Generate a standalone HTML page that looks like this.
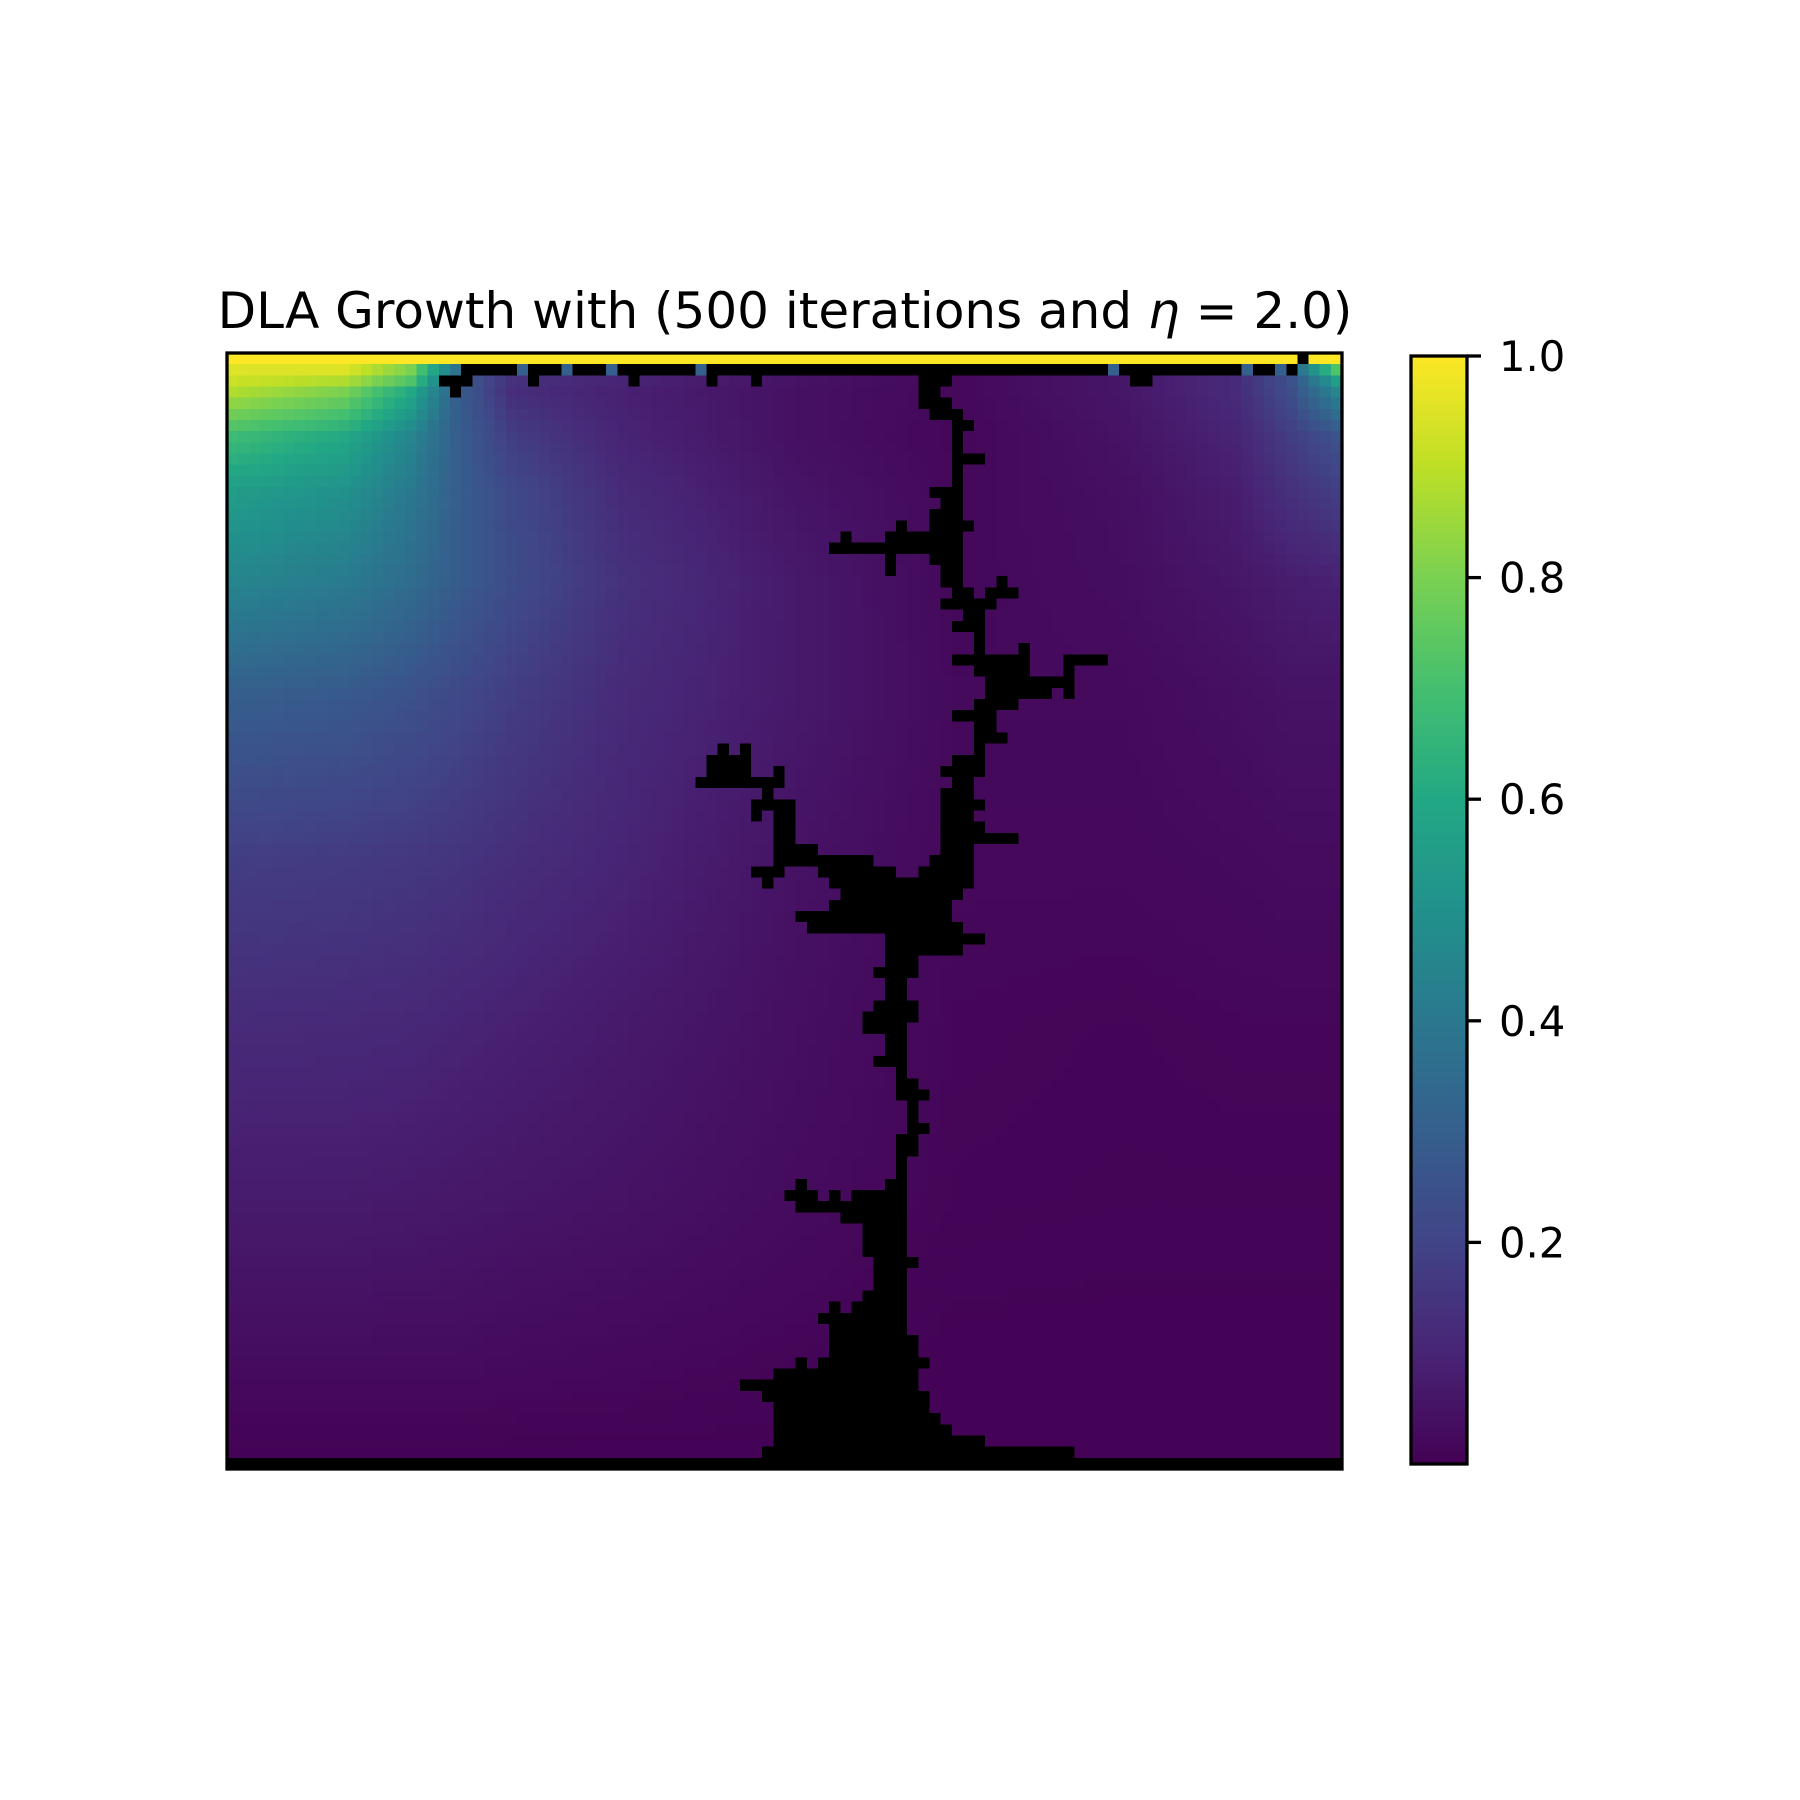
<!DOCTYPE html>
<html>
<head>
<meta charset="utf-8">
<style>
  html, body { margin: 0; padding: 0; background: #ffffff; }
  svg { display: block; }
  text { font-family: "DejaVu Sans", "Liberation Sans", sans-serif; fill: #000; }
</style>
</head>
<body>
<svg id="chart" width="1800" height="1800" viewBox="0 0 1800 1800" xmlns="http://www.w3.org/2000/svg">
  <rect x="0" y="0" width="1800" height="1800" fill="#ffffff"/>
  <text x="785" y="328" text-anchor="middle" font-size="50">DLA Growth with (500 iterations and <tspan font-style="italic">η</tspan> = 2.0)</text>
  <g id="heatmap" shape-rendering="crispEdges"></g>
  <rect x="227" y="353" width="1115" height="1116" fill="none" stroke="#000" stroke-width="3.3"/>
  <defs>
    <linearGradient id="viridisGrad" x1="0" y1="1" x2="0" y2="0">
      <stop offset="0" stop-color="#440154"/>
      <stop offset="0.1" stop-color="#482475"/>
      <stop offset="0.2" stop-color="#414487"/>
      <stop offset="0.3" stop-color="#355f8d"/>
      <stop offset="0.4" stop-color="#2a788e"/>
      <stop offset="0.5" stop-color="#21918c"/>
      <stop offset="0.6" stop-color="#22a884"/>
      <stop offset="0.7" stop-color="#44bf70"/>
      <stop offset="0.8" stop-color="#7ad151"/>
      <stop offset="0.9" stop-color="#bddf26"/>
      <stop offset="1" stop-color="#fde725"/>
    </linearGradient>
  </defs>
  <rect x="1411" y="356" width="56" height="1108" fill="url(#viridisGrad)" stroke="#000" stroke-width="3.3"/>
  <g id="cbticks"></g>
</svg>
<script>
// ---- data ----
const sampleRows = [1, 2, 3, 7, 12, 20, 30, 45, 60, 75, 90, 98];
const sampleCols = [0, 10, 16, 20, 25, 35, 50, 65, 80, 90, 95, 99];
const fieldR1  = [0.95, 0.95, 0.80, 0.38, 0.30, 0.30, 0.30, 0.30, 0.30, 0.30, 0.30, 0.72];
const fieldR2  = [0.92, 0.88, 0.72, 0.30, 0.14, 0.10, 0.05, 0.02, 0.06, 0.12, 0.25, 0.55];
const fieldR3  = [0.88, 0.80, 0.60, 0.30, 0.13, 0.09, 0.045, 0.02, 0.06, 0.12, 0.24, 0.45];
const fieldR7  = [0.68, 0.60, 0.45, 0.30, 0.18, 0.10, 0.045, 0.015, 0.05, 0.10, 0.18, 0.25];
const fieldR12 = [0.55, 0.50, 0.40, 0.30, 0.22, 0.12, 0.055, 0.02, 0.04, 0.08, 0.14, 0.18];
const fieldR20 = [0.45, 0.41, 0.35, 0.29, 0.23, 0.14, 0.07, 0.02, 0.035, 0.06, 0.08, 0.09];
const fieldR30 = [0.30, 0.28, 0.25, 0.22, 0.18, 0.12, 0.07, 0.025, 0.025, 0.04, 0.05, 0.05];
const fieldR45 = [0.18, 0.17, 0.16, 0.15, 0.13, 0.10, 0.05, 0.02, 0.02, 0.025, 0.03, 0.03];
const fieldR60 = [0.12, 0.115, 0.11, 0.10, 0.09, 0.07, 0.04, 0.015, 0.012, 0.015, 0.015, 0.015];
const fieldR75 = [0.075, 0.075, 0.07, 0.065, 0.06, 0.05, 0.03, 0.012, 0.01, 0.01, 0.01, 0.01];
const fieldR90 = [0.03, 0.03, 0.03, 0.03, 0.025, 0.02, 0.012, 0.005, 0.005, 0.005, 0.005, 0.005];
const fieldR98 = [0.005, 0.005, 0.005, 0.005, 0.005, 0.005, 0.005, 0.005, 0.005, 0.005, 0.005, 0.005];
const sourceRow = 0;
const sourceValue = 1.0;
// cluster runs: [row, firstCol, lastCol]
const clusterRuns = [
  [0,96,96],
  [1,21,25],[1,27,29],[1,31,33],[1,35,41],[1,43,78],[1,80,90],[1,92,93],[1,95,95],
  [2,19,21],[2,27,27],[2,36,36],[2,43,43],[2,47,47],[2,62,64],[2,81,82],
  [3,20,20],[3,62,63],
  [4,62,64],[5,63,65],[6,65,66],[7,65,65],[8,65,65],[9,65,67],[10,65,65],[11,65,65],
  [12,63,65],[13,64,65],[14,63,65],[15,60,60],[15,63,66],[16,55,55],[16,59,65],
  [17,54,65],[18,59,59],[18,63,65],[19,59,59],[19,64,65],[20,64,65],[20,69,69],
  [21,65,66],[21,68,70],[22,64,68],[23,66,67],[24,65,67],[25,67,67],[26,67,67],[26,71,71],
  [27,65,71],[27,75,78],[28,67,71],[28,75,75],[29,68,75],[30,68,73],[30,75,75],
  [31,67,70],[32,65,68],[33,67,68],[34,67,69],[35,44,44],[35,46,46],[35,67,67],
  [36,43,46],[36,65,67],[37,43,46],[37,49,49],[37,64,67],[38,42,49],[38,65,66],
  [39,48,48],[39,64,66],[40,47,50],[40,64,67],[41,47,47],[41,49,50],[41,64,66],
  [42,49,50],[42,64,67],[43,49,50],[43,64,70],[44,49,52],[44,64,66],[45,49,57],[45,63,66],
  [46,47,49],[46,53,59],[46,62,66],[47,48,48],[47,54,66],[48,55,65],[49,54,64],
  [50,51,64],[51,52,65],[52,59,67],[53,59,65],[54,59,61],[55,58,61],[56,59,60],[57,59,60],
  [58,58,61],[59,57,61],[60,57,60],[61,59,60],[62,59,60],[63,58,60],[64,60,60],[65,60,61],
  [66,60,62],[67,61,61],[68,61,61],[69,61,62],[70,60,61],[71,60,61],[72,60,60],[73,60,60],
  [74,51,51],[74,59,60],[75,50,52],[75,54,54],[75,56,60],[76,51,60],[77,55,60],[78,57,60],
  [79,57,60],[80,57,60],[81,58,61],[82,58,60],[83,58,60],[84,57,60],[85,54,54],[85,56,60],
  [86,53,60],[87,54,60],[88,54,61],[89,54,61],[90,51,51],[90,53,62],[91,49,61],[92,46,61],
  [93,48,62],[94,49,62],[95,49,63],[96,49,64],[97,49,67],[98,48,75],[99,0,99]
];
const cbTickValues = [0.2, 0.4, 0.6, 0.8, 1.0];
const cbTickLabels = ["0.2", "0.4", "0.6", "0.8", "1.0"];

// ---- rendering ----
const fieldRows = [fieldR1, fieldR2, fieldR3, fieldR7, fieldR12, fieldR20, fieldR30, fieldR45, fieldR60, fieldR75, fieldR90, fieldR98];
const NS = "http://www.w3.org/2000/svg";
const N = 100;
const ax = {x0: 227, y0: 353, w: 1115, h: 1116};
const vmin = 0.0, vmax = 1.0;
const colX = c => ax.x0 + c * ax.w / N;
const rowY = r => ax.y0 + r * ax.h / N;
const stops = ["#440154","#482475","#414487","#355f8d","#2a788e","#21918c","#22a884","#44bf70","#7ad151","#bddf26","#fde725"];
function hex(h){ return [parseInt(h.slice(1,3),16),parseInt(h.slice(3,5),16),parseInt(h.slice(5,7),16)]; }
const stopRGB = stops.map(hex);
function viridis(v){
  let t = (v - vmin) / (vmax - vmin);
  t = Math.max(0, Math.min(1, t)) * 10;
  const i = Math.min(9, Math.floor(t)), f = t - i;
  const a = stopRGB[i], b = stopRGB[i+1];
  return "rgb(" + a.map((x,k)=>Math.round(x + (b[k]-x)*f)).join(",") + ")";
}
function seg(arr, x){
  for (let i = 0; i < arr.length - 1; i++) if (x <= arr[i+1]) return [i, (x - arr[i]) / (arr[i+1] - arr[i])];
  return [arr.length - 2, 1];
}
function fieldAt(r, c){
  if (r === sourceRow) return sourceValue;
  const rr = Math.max(sampleRows[0], r);
  const [i, fr] = seg(sampleRows, rr);
  const [j, fc] = seg(sampleCols, c);
  const v00 = fieldRows[i][j], v01 = fieldRows[i][j+1], v10 = fieldRows[i+1][j], v11 = fieldRows[i+1][j+1];
  return (v00*(1-fc) + v01*fc)*(1-fr) + (v10*(1-fc) + v11*fc)*fr;
}
const black = new Set();
clusterRuns.forEach(([r,a,b]) => { for (let c = a; c <= b; c++) black.add(r*N + c); });
const hm = document.getElementById("heatmap");
const cw = ax.w / N, ch = ax.h / N;
for (let r = 0; r < N; r++) {
  for (let c = 0; c < N; c++) {
    const el = document.createElementNS(NS, "rect");
    el.setAttribute("x", colX(c).toFixed(2));
    el.setAttribute("y", rowY(r).toFixed(2));
    el.setAttribute("width", (cw + 0.6).toFixed(2));
    el.setAttribute("height", (ch + 0.6).toFixed(2));
    const isBlack = black.has(r*N + c);
    el.setAttribute("fill", isBlack ? "#000000" : viridis(fieldAt(r, c)));
    
    
    hm.appendChild(el);
  }
}
// colorbar ticks
const cb = {x: 1411, w: 56, top: 356, bottom: 1464};
const cbY = v => cb.bottom - (v - vmin) / (vmax - vmin) * (cb.bottom - cb.top);
const tg = document.getElementById("cbticks");
cbTickValues.forEach((v, k) => {
  const y = cbY(v);
  const ln = document.createElementNS(NS, "line");
  ln.setAttribute("x1", cb.x + cb.w); ln.setAttribute("x2", cb.x + cb.w + 14);
  ln.setAttribute("y1", y); ln.setAttribute("y2", y);
  ln.setAttribute("stroke", "#000"); ln.setAttribute("stroke-width", "3.3");
  
  
  tg.appendChild(ln);
  const tx = document.createElementNS(NS, "text");
  tx.setAttribute("x", 1499);
  tx.setAttribute("y", y + 15);
  tx.setAttribute("font-size", "41.7");
  tx.textContent = cbTickLabels[k];
  
  
  tg.appendChild(tx);
});
</script>
</body>
</html>
